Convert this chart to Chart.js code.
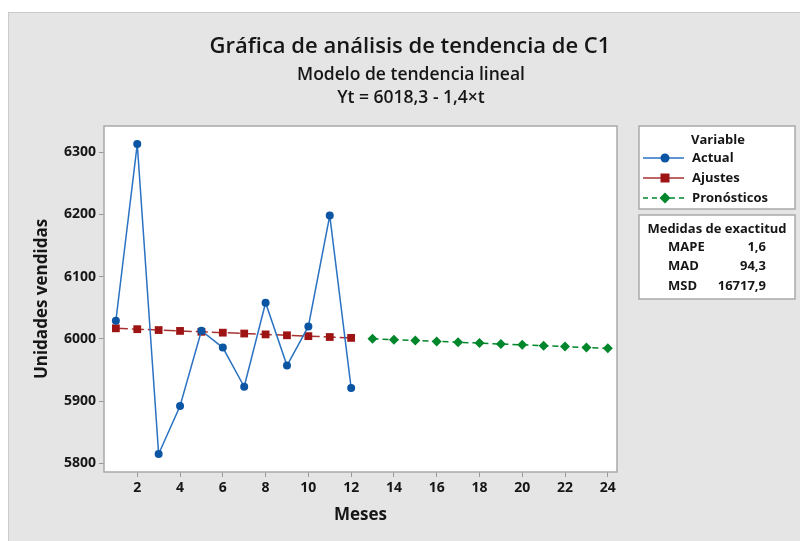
<!DOCTYPE html>
<html lang="es">
<head>
<meta charset="UTF-8">
<title>Gráfica de análisis de tendencia de C1</title>
<script src="https://cdn.jsdelivr.net/npm/chart.js@4/dist/chart.umd.min.js"></script>
<style>
    html, body { margin: 0; padding: 0; background: #fff; }
    #wrap { position: relative; width: 800px; height: 541px; }
</style>
</head>
<body>
<div id="wrap"><canvas id="tendencia" width="800" height="541"></canvas></div>
<script>
// datos del análisis de tendencia
const meses = [1, 2, 3, 4, 5, 6, 7, 8, 9, 10, 11, 12];
const mesesPronostico = [13, 14, 15, 16, 17, 18, 19, 20, 21, 22, 23, 24];
const actual = [6029, 6313, 5815, 5892, 6013, 5986, 5923, 6058, 5957, 6020, 6198, 5921];
// Yt = 6018,3 - 1,4×t
const ajustes = [6016.9, 6015.5, 6014.1, 6012.7, 6011.3, 6009.9, 6008.5, 6007.1, 6005.7, 6004.3, 6002.9, 6001.5];
const pronosticos = [6000.1, 5998.7, 5997.3, 5995.9, 5994.5, 5993.1, 5991.7, 5990.3, 5988.9, 5987.5, 5986.1, 5984.7];
const xTicks = [2, 4, 6, 8, 10, 12, 14, 16, 18, 20, 22, 24];
const yTicks = [5800, 5900, 6000, 6100, 6200, 6300];
const medidasNombres = ['MAPE', 'MAD', 'MSD'];
const medidasValores = ['1,6', '94,3', '16717,9'];

const FONT = '"Open Sans", "Noto Sans", sans-serif';
const AZUL_LINEA = '#2a72c2';
const AZUL_PUNTO = '#0b55a3';
const ROJO = '#9e1414';
const ROJO_LINEA = '#a83232';
const VERDE = '#00862b';
const TEXTO = '#161616';

const toPoints = (xs, ys) => xs.map((x, i) => ({ x: x, y: ys[i] }));

function simbolo(ctx, tipo, x, y, color) {
    ctx.fillStyle = color;
    ctx.beginPath();
    if (tipo === 'circle') {
        ctx.arc(x, y, 4.5, 0, Math.PI * 2);
    } else if (tipo === 'rect') {
        ctx.rect(x - 4.5, y - 4.5, 9, 9);
    } else {
        ctx.moveTo(x, y - 5.5);
        ctx.lineTo(x + 5.5, y);
        ctx.lineTo(x, y + 5.5);
        ctx.lineTo(x - 5.5, y);
        ctx.closePath();
    }
    ctx.fill();
}

// fondo gris, marco del gráfico, títulos y cuadros de leyenda
const marco = {
    id: 'marco',
    beforeDraw(chart) {
        const { ctx, chartArea: a } = chart;
        ctx.save();
        ctx.fillStyle = '#fff';
        ctx.fillRect(0, 0, chart.width, chart.height);
        ctx.fillStyle = '#e5e5e5';
        ctx.fillRect(8, 12, 792, 529);
        ctx.strokeStyle = '#cbcbcb';
        ctx.lineWidth = 1;
        ctx.strokeRect(8.5, 12.5, 795, 532);
        ctx.fillStyle = '#fff';
        ctx.fillRect(a.left, a.top, a.right - a.left, a.bottom - a.top);
        ctx.restore();
    },
    beforeDatasetsDraw(chart) {
        const { ctx, chartArea: a } = chart;
        ctx.save();
        ctx.strokeStyle = '#a9a9a9';
        ctx.lineWidth = 1.5;
        ctx.strokeRect(a.left, a.top, a.right - a.left, a.bottom - a.top);
        ctx.restore();
    },
    afterDraw(chart) {
        const ctx = chart.ctx;
        ctx.save();
        ctx.fillStyle = TEXTO;
        ctx.textAlign = 'center';
        ctx.textBaseline = 'middle';
        ctx.font = '600 22px ' + FONT;
        ctx.fillText('Gráfica de análisis de tendencia de C1', 410, 47);
        ctx.font = '600 17.5px ' + FONT;
        ctx.fillText('Modelo de tendencia lineal', 411, 75);
        ctx.fillText('Yt = 6018,3 - 1,4×t', 411, 98);

        // cuadro Variable
        ctx.fillStyle = '#fff';
        ctx.strokeStyle = '#a9a9a9';
        ctx.lineWidth = 1.5;
        ctx.fillRect(639, 126, 156, 83);
        ctx.strokeRect(639, 126, 156, 83);
        ctx.fillRect(639, 215, 156, 84);
        ctx.strokeRect(639, 215, 156, 84);

        ctx.font = '700 13px ' + FONT;
        ctx.fillStyle = TEXTO;
        ctx.fillText('Variable', 718, 140);

        const filas = [
            { nombre: 'Actual', linea: AZUL_LINEA, punto: AZUL_PUNTO, tipo: 'circle', dash: [] },
            { nombre: 'Ajustes', linea: ROJO_LINEA, punto: ROJO, tipo: 'rect', dash: [] },
            { nombre: 'Pronósticos', linea: VERDE, punto: VERDE, tipo: 'diamond', dash: [5, 4] }
        ];
        filas.forEach((f, i) => {
            const y = 158 + i * 20;
            ctx.strokeStyle = f.linea;
            ctx.lineWidth = 1.5;
            ctx.setLineDash(f.dash);
            ctx.beginPath();
            ctx.moveTo(643, y);
            ctx.lineTo(684, y);
            ctx.stroke();
            ctx.setLineDash([]);
            simbolo(ctx, f.tipo, 665, y, f.punto);
            ctx.fillStyle = TEXTO;
            ctx.textAlign = 'left';
            ctx.fillText(f.nombre, 692, y);
        });

        // cuadro de medidas de exactitud
        ctx.textAlign = 'center';
        ctx.fillText('Medidas de exactitud', 717, 229);
        medidasNombres.forEach((n, i) => {
            const y = 247 + i * 19.5;
            ctx.textAlign = 'left';
            ctx.fillText(n, 668, y);
            ctx.textAlign = 'right';
            ctx.fillText(medidasValores[i], 766, y);
        });
        ctx.restore();
    }
};

const ctx = document.getElementById('tendencia').getContext('2d');
const chart = new Chart(ctx, {
    type: 'line',
    data: {
        datasets: [
            {
                label: 'Actual',
                data: toPoints(meses, actual),
                borderColor: AZUL_LINEA,
                borderWidth: 1.5,
                pointStyle: 'circle',
                pointRadius: 4,
                pointBorderWidth: 0,
                pointBackgroundColor: AZUL_PUNTO,
                tension: 0
            },
            {
                label: 'Ajustes',
                data: toPoints(meses, ajustes),
                borderColor: ROJO_LINEA,
                borderWidth: 1.5,
                borderDash: [12, 4],
                pointStyle: 'rect',
                pointRadius: 5.5,
                pointBorderWidth: 0,
                pointBackgroundColor: ROJO,
                tension: 0
            },
            {
                label: 'Pronósticos',
                data: toPoints(mesesPronostico, pronosticos),
                borderColor: VERDE,
                borderWidth: 1.5,
                borderDash: [6, 4],
                pointStyle: 'rectRot',
                pointRadius: 5,
                pointBorderWidth: 0,
                pointBackgroundColor: VERDE,
                tension: 0
            }
        ]
    },
    options: {
        responsive: false,
        animation: false,
        devicePixelRatio: 1,
        layout: { padding: { left: 0, right: 183, top: 126, bottom: 0 } },
        plugins: {
            legend: { display: false },
            title: { display: false },
            tooltip: { enabled: false }
        },
        scales: {
            x: {
                type: 'linear',
                min: 0.445,
                max: 24.43,
                afterBuildTicks: s => { s.ticks = xTicks.map(v => ({ value: v })); },
                afterFit: s => { s.height = 69; },
                grid: { drawOnChartArea: false, drawTicks: true, tickLength: 5, color: '#9a9a9a' },
                border: { display: false },
                ticks: {
                    padding: 3,
                    color: TEXTO,
                    font: { family: FONT, size: 14, weight: '700' },
                    callback: v => String(v)
                },
                title: {
                    display: true,
                    text: 'Meses',
                    color: TEXTO,
                    font: { family: FONT, size: 17, weight: '700' },
                    padding: { top: 0, bottom: 16 }
                }
            },
            y: {
                type: 'linear',
                min: 5786,
                max: 6342,
                afterBuildTicks: s => { s.ticks = yTicks.map(v => ({ value: v })); },
                afterFit: s => { s.width = 104; },
                grid: { drawOnChartArea: false, drawTicks: true, tickLength: 5, color: '#9a9a9a' },
                border: { display: false },
                ticks: {
                    padding: 3,
                    color: TEXTO,
                    font: { family: FONT, size: 14, weight: '700' },
                    callback: v => String(v)
                },
                title: {
                    display: true,
                    text: 'Unidades vendidas',
                    color: TEXTO,
                    font: { family: FONT, size: 17, weight: '700' },
                    padding: { top: 32, bottom: 0 }
                }
            }
        }
    },
    plugins: [marco]
});
</script>
</body>
</html>
